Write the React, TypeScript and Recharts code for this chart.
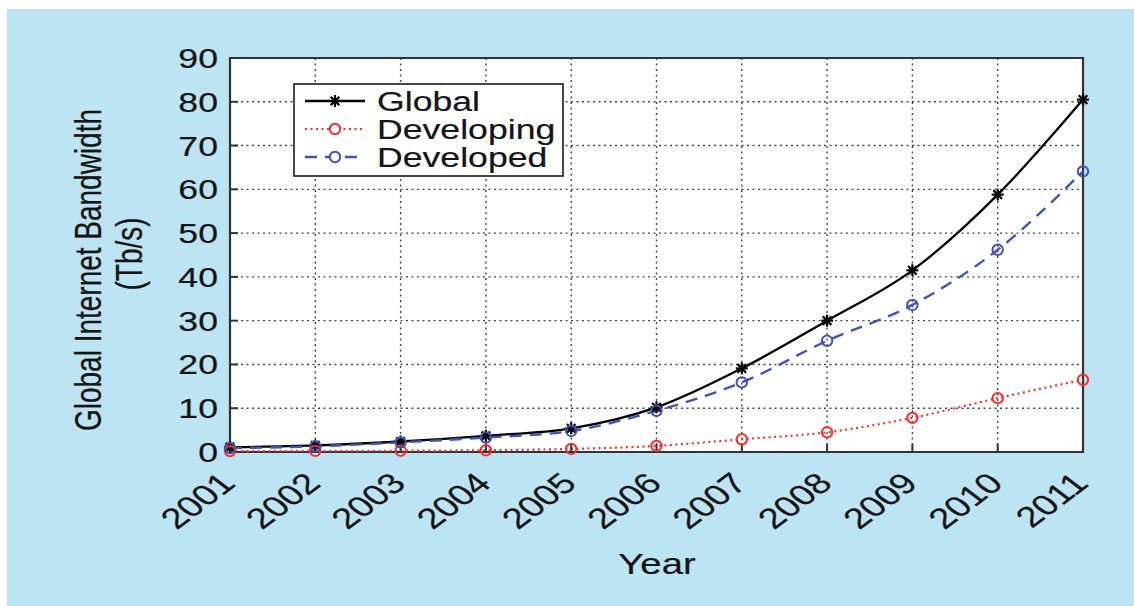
import React from "react";
import {
  LineChart,
  Line,
  XAxis,
  YAxis,
  CartesianGrid,
  ReferenceArea,
  Legend,
} from "recharts";

// values (Tb/s)
const years = [2001, 2002, 2003, 2004, 2005, 2006, 2007, 2008, 2009, 2010, 2011];
const globalBw = [1.1, 1.5, 2.4, 3.7, 5.4, 10.2, 19.1, 30.0, 41.5, 58.8, 80.5];
const developingBw = [0.2, 0.25, 0.3, 0.4, 0.7, 1.4, 2.9, 4.5, 7.8, 12.3, 16.5];
const developedBw = [0.9, 1.3, 2.2, 3.3, 4.8, 9.4, 15.9, 25.4, 33.6, 46.2, 64.1];
const yTicks = [0, 10, 20, 30, 40, 50, 60, 70, 80, 90];

const data = years.map((year, i) => ({
  year,
  global: globalBw[i],
  developing: developingBw[i],
  developed: developedBw[i],
}));

const FONT = '"Liberation Sans", Arial, Helvetica, sans-serif';
const SX = 1.32; // the scanned figure is stretched sideways
const INK = "#151515";
const RED = "#ff2b2b";
const BLUE = "#4353b3";

// scanned text is a touch heavier than plain regular weight
const heavy = { stroke: INK, strokeWidth: 0.2, paintOrder: "stroke" as const };

const series = [
  { key: "global", name: "Global", color: "#000", dash: undefined, width: 2.3, marker: "star" },
  { key: "developing", name: "Developing", color: RED, dash: "2 3.5", width: 2.2, marker: "circle" },
  { key: "developed", name: "Developed", color: BLUE, dash: "12 8", width: 2.4, marker: "circle" },
];

const star = (cx: number, cy: number, key?: any) => {
  const r = 6;
  const d = 4.3;
  return (
    <g key={key} stroke="#000" strokeWidth={2.2}>
      <line x1={cx - r} y1={cy} x2={cx + r} y2={cy} />
      <line x1={cx} y1={cy - r} x2={cx} y2={cy + r} />
      <line x1={cx - d} y1={cy - d} x2={cx + d} y2={cy + d} />
      <line x1={cx - d} y1={cy + d} x2={cx + d} y2={cy - d} />
    </g>
  );
};

const StarDot = (props: any) => {
  const { cx, cy, index } = props;
  if (cx == null || cy == null) return <g key={index} />;
  return star(cx, cy, index);
};

const circleDot = (color: string) => (props: any) => {
  const { cx, cy, index } = props;
  if (cx == null || cy == null) return <g key={index} />;
  return <circle key={index} cx={cx} cy={cy} r={5.2} fill="none" stroke={color} strokeWidth={2} />;
};

const YTick = ({ x, y, payload }: any) => (
  <text
    transform={`translate(${x - 12},${y + 10}) scale(${SX},1)`}
    textAnchor="end"
    fontSize={27}
    fontFamily={FONT}
    fill={INK}
    {...heavy}
  >
    {payload.value}
  </text>
);

const XTick = ({ x, y, payload }: any) => (
  <text
    transform={`translate(${x + 7},${y + 33}) scale(${SX},1) rotate(-45)`}
    textAnchor="end"
    fontSize={29}
    fontFamily={FONT}
    fill={INK}
    {...heavy}
  >
    {payload.value}
  </text>
);

const YLabel = () => (
  <g fontFamily={FONT} fontSize={28} fill={INK} {...heavy}>
    <text transform={`translate(101,270) scale(${SX},1) rotate(-90)`} textAnchor="middle">
      Global Internet Bandwidth
    </text>
    <text transform={`translate(142,254) scale(${SX},1) rotate(-90)`} textAnchor="middle">
      (Tb/s)
    </text>
  </g>
);

const XLabel = () => (
  <text
    transform={`translate(657,574) scale(${SX},1)`}
    textAnchor="middle"
    fontFamily={FONT}
    fontSize={29}
    fill={INK}
    {...heavy}
  >
    Year
  </text>
);

const LegendBox = () => (
  <svg width={271} height={94} style={{ display: "block" }}>
    <rect x={1} y={1} width={269} height={92} fill="#fff" stroke="#333" strokeWidth={1.8} />
    {series.map((s, i) => {
      const cy = 18 + i * 28;
      return (
        <g key={s.key}>
          <line
            x1={12}
            x2={72}
            y1={cy}
            y2={cy}
            stroke={s.color}
            strokeWidth={s.width}
            strokeDasharray={s.dash}
          />
          {s.marker === "star" ? (
            star(42, cy)
          ) : (
            <circle cx={42} cy={cy} r={5.2} fill="#fff" stroke={s.color} strokeWidth={2} />
          )}
          <text
            transform={`translate(84,${cy + 10}) scale(${SX},1)`}
            fontFamily={FONT}
            fontSize={27}
            fill={INK}
            {...heavy}
          >
            {s.name}
          </text>
        </g>
      );
    })}
  </svg>
);

export default function App() {
  return (
    <div
      style={{
        position: "absolute",
        left: 0,
        top: 0,
        width: 1134,
        height: 606,
        background: "#fff",
        overflow: "hidden",
      }}
    >
      <div
        style={{
          position: "absolute",
          left: 7,
          top: 9,
          right: 0,
          bottom: 0,
          background: "#bce4f2",
        }}
      />
      <div style={{ position: "absolute", left: 0, top: 0 }}>
        <LineChart
          width={1134}
          height={606}
          data={data}
          margin={{ top: 58, right: 51, bottom: 0, left: 0 }}
        >
          <CartesianGrid
            stroke="#444"
            strokeDasharray="2 3.5"
            strokeWidth={1.4}
            fill="#fff"
            fillOpacity={1}
          />
          <XAxis
            dataKey="year"
            type="number"
            domain={[2001, 2011]}
            ticks={years}
            interval={0}
            height={154}
            axisLine={false}
            tickSize={-8}
            tickMargin={8}
            tickLine={{ stroke: "#333", strokeWidth: 2 }}
            tick={<XTick />}
            label={<XLabel />}
          />
          <XAxis
            xAxisId="t"
            orientation="top"
            type="number"
            domain={[2001, 2011]}
            ticks={years}
            interval={0}
            height={0}
            axisLine={false}
            tickSize={-8}
            tickLine={{ stroke: "#333", strokeWidth: 2 }}
            tick={false}
          />
          <YAxis
            type="number"
            domain={[0, 90]}
            ticks={yTicks}
            interval={0}
            width={230}
            axisLine={false}
            tickSize={-8}
            tickMargin={8}
            tickLine={{ stroke: "#333", strokeWidth: 2 }}
            tick={<YTick />}
            label={<YLabel />}
          />
          <YAxis
            yAxisId="r"
            orientation="right"
            type="number"
            domain={[0, 90]}
            ticks={yTicks}
            interval={0}
            width={0}
            axisLine={false}
            tickSize={-8}
            tickLine={{ stroke: "#333", strokeWidth: 2 }}
            tick={false}
          />
          <ReferenceArea
            x1={2001}
            x2={2011}
            y1={0}
            y2={90}
            fill="none"
            fillOpacity={0}
            stroke="#333"
            strokeWidth={2.2}
          />
          <Legend
            layout="vertical"
            align="center"
            verticalAlign="middle"
            content={<LegendBox />}
            wrapperStyle={{ left: 293, top: 83, width: 271, height: 94 }}
          />
          <Line
            dataKey="global"
            name="Global"
            type="monotone"
            stroke="#000"
            strokeWidth={2.3}
            dot={StarDot}
            activeDot={false}
            isAnimationActive={false}
          />
          <Line
            dataKey="developing"
            name="Developing"
            type="monotone"
            stroke={RED}
            strokeWidth={2.2}
            strokeDasharray="2 3.5"
            dot={circleDot(RED)}
            activeDot={false}
            isAnimationActive={false}
          />
          <Line
            dataKey="developed"
            name="Developed"
            type="monotone"
            stroke={BLUE}
            strokeWidth={2.4}
            strokeDasharray="12 8"
            dot={circleDot(BLUE)}
            activeDot={false}
            isAnimationActive={false}
          />
        </LineChart>
      </div>
    </div>
  );
}
